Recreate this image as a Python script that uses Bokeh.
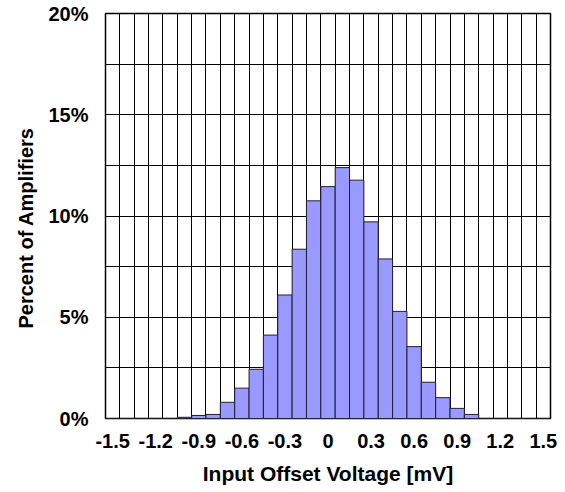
from bokeh.plotting import figure
from bokeh.models import Range1d, FixedTicker, Title
from bokeh.embed import file_html
from bokeh.resources import INLINE

# Data: category centres (mV) and percent of amplifiers
voltage = [-1.5, -1.4, -1.3, -1.2, -1.1, -1.0, -0.9, -0.8, -0.7, -0.6, -0.5, -0.4,
           -0.3, -0.2, -0.1, 0.0, 0.1, 0.2, 0.3, 0.4, 0.5, 0.6, 0.7, 0.8, 0.9,
           1.0, 1.1, 1.2, 1.3, 1.4, 1.5]
percent = [0.0, 0.0, 0.0, 0.0, 0.0, 0.06, 0.15, 0.2, 0.8, 1.5, 2.43, 4.12,
           6.1, 8.36, 10.75, 11.45, 12.39, 11.77, 9.71, 7.88, 5.29, 3.55, 1.79, 1.03, 0.5,
           0.2, 0.0, 0.0, 0.0, 0.0, 0.0]
x_ticks = [-1.5, -1.2, -0.9, -0.6, -0.3, 0.0, 0.3, 0.6, 0.9, 1.2, 1.5]
x_tick_labels = ["-1.5", "-1.2", "-0.9", "-0.6", "-0.3", "0", "0.3", "0.6", "0.9", "1.2", "1.5"]
y_ticks = [0, 5, 10, 15, 20]
y_tick_labels = ["0%", "5%", "10%", "15%", "20%"]
x_title = "Input Offset Voltage [mV]"
y_title = "Percent of Amplifiers"

FONT = "Liberation Sans"

p = figure(width=565, height=492, output_backend="svg", toolbar_location=None,
           x_range=Range1d(-1.55, 1.55), y_range=Range1d(0, 20),
           min_border_left=105, min_border_right=15, min_border_top=13,
           min_border_bottom=74)

p.vbar(x=voltage, top=percent, width=0.1, bottom=0,
       fill_color="#9999FF", line_color="#202030", line_width=1)

# grid at category boundaries
p.xgrid.ticker = FixedTicker(ticks=[round(-1.45 + 0.1 * i, 2) for i in range(30)])
p.ygrid.ticker = FixedTicker(ticks=[2.5 * i for i in range(1, 8)])
for g in (p.xgrid, p.ygrid):
    g.grid_line_color = "black"
    g.grid_line_width = 1
    g.grid_line_alpha = 1.0

p.outline_line_color = "black"
p.outline_line_width = 1.5
p.outline_line_alpha = 1.0

p.xaxis.ticker = FixedTicker(ticks=x_ticks)
p.xaxis.major_label_overrides = {t: l for t, l in zip(x_ticks, x_tick_labels)}
p.yaxis.ticker = FixedTicker(ticks=y_ticks)
p.yaxis.major_label_overrides = {t: l for t, l in zip(y_ticks, y_tick_labels)}

for ax in (p.xaxis, p.yaxis):
    ax.axis_line_color = None
    ax.major_tick_line_color = None
    ax.minor_tick_line_color = None
    ax.major_tick_out = 0
    ax.major_tick_in = 0
    ax.major_label_text_font = FONT
    ax.major_label_text_font_style = "bold"
    ax.major_label_text_font_size = "20px"
    ax.major_label_text_color = "black"
    ax.axis_label_text_font = FONT
    ax.axis_label_text_font_style = "bold"
    ax.axis_label_text_color = "black"

p.xaxis.axis_label = x_title
p.xaxis.axis_label_text_font_size = "21px"
p.xaxis.major_label_standoff = 15
p.xaxis.axis_label_standoff = 11

p.yaxis.major_label_standoff = 17

# y title as a side title, shifted a little below the frame centre
p.add_layout(Title(text=y_title, align="left", offset=90,
                   text_font=FONT, text_font_style="bold",
                   text_font_size="20px", text_color="black",
                   standoff=18), "left")

p.background_fill_color = "white"
p.border_fill_color = "white"

open("out.html", "w").write(file_html(p, INLINE))
